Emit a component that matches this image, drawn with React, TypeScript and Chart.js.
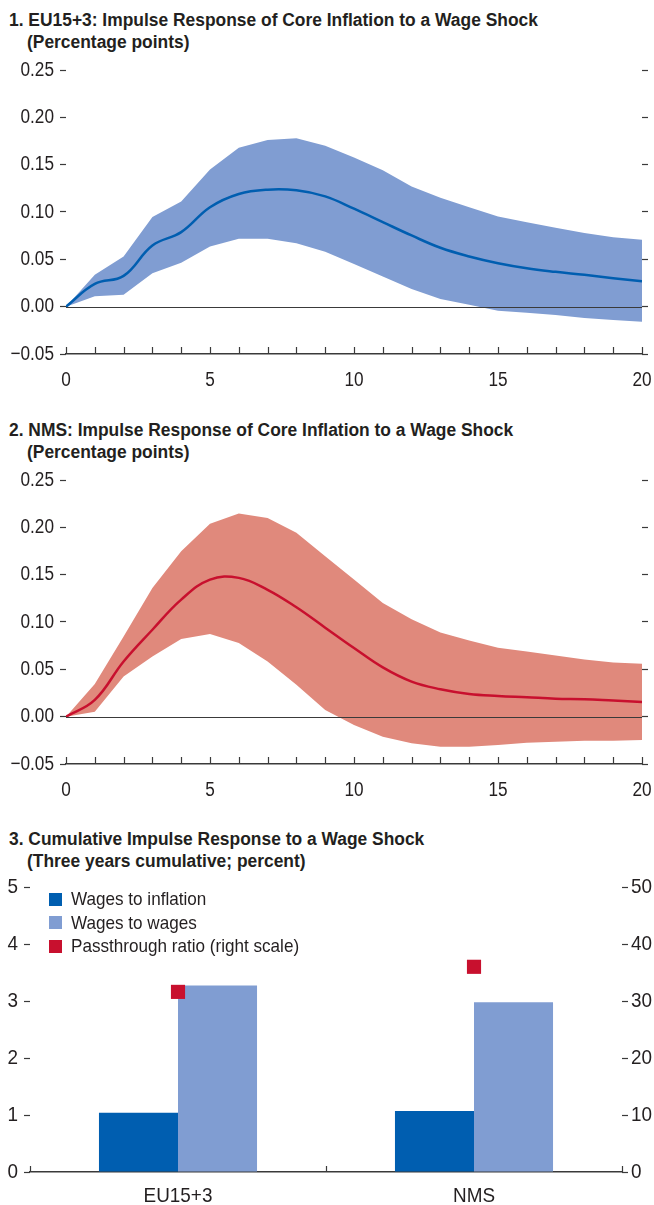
import React, { useEffect, useRef } from "react";
import { Chart, registerables } from "chart.js";

Chart.register(...registerables);

// ---------- Data ----------
const horizons = [0, 1, 2, 3, 4, 5, 6, 7, 8, 9, 10, 11, 12, 13, 14, 15, 16, 17, 18, 19, 20];

const euMedian = [0, 0.024, 0.0325, 0.0646, 0.0787, 0.105, 0.119, 0.1236, 0.1229, 0.1165, 0.1035, 0.0893, 0.0752, 0.0622, 0.053, 0.0459, 0.0406, 0.0368, 0.0336, 0.030, 0.0268];
const euUpper = [0, 0.0336, 0.053, 0.0946, 0.111, 0.145, 0.168, 0.176, 0.178, 0.17, 0.1575, 0.144, 0.127, 0.115, 0.105, 0.0953, 0.0893, 0.0833, 0.0777, 0.0734, 0.0706];
const euLower = [0, 0.011, 0.0127, 0.0353, 0.0463, 0.0636, 0.0717, 0.0717, 0.067, 0.058, 0.045, 0.0318, 0.0187, 0.0081, 0.002, -0.0042, -0.0064, -0.0088, -0.012, -0.0141, -0.0159];

const nmsMedian = [0, 0.0177, 0.0583, 0.0918, 0.1236, 0.1448, 0.1466, 0.134, 0.1155, 0.094, 0.0725, 0.052, 0.037, 0.029, 0.024, 0.0219, 0.0205, 0.019, 0.0184, 0.017, 0.0156];
const nmsUpper = [0, 0.0346, 0.0847, 0.136, 0.1748, 0.2038, 0.2147, 0.2098, 0.1943, 0.1695, 0.1448, 0.120, 0.103, 0.089, 0.0805, 0.0728, 0.0689, 0.0646, 0.0604, 0.0572, 0.0558];
const nmsLower = [0, 0.0053, 0.0424, 0.0636, 0.082, 0.0873, 0.0777, 0.0583, 0.0336, 0.007, -0.0088, -0.0212, -0.0282, -0.0318, -0.0318, -0.030, -0.0275, -0.0265, -0.0254, -0.0254, -0.0247];

const irfYTicks = [-0.05, 0, 0.05, 0.1, 0.15, 0.2, 0.25];
const irfXLabelStep = 5;

const groups = ["EU15+3", "NMS"];
const wagesToInflation = [1.04, 1.07];
const wagesToWages = [3.27, 2.98];
const passthroughRatio = [31.6, 36.0];
const leftTicks3 = [0, 1, 2, 3, 4, 5];
const rightTicks3 = [0, 10, 20, 30, 40, 50];

// ---------- Styles ----------
const FONT = '"Liberation Sans", Arial, sans-serif';
const TEXT = "#231f20";
const AXIS = "#3a3a3a";

// Horizontally condensed text drawing (the original uses a condensed face)
const condense = {
  id: "condense",
  beforeInit(chart: any, _args: any, opts: any) {
    const ctx = chart.ctx;
    const k = opts && opts.k ? opts.k : 1;
    const orig = ctx.fillText.bind(ctx);
    ctx.fillText = (text: string, x: number, y: number, maxWidth?: number) => {
      ctx.save();
      ctx.translate(x, y);
      ctx.scale(k, 1);
      if (maxWidth !== undefined && maxWidth !== null) orig(text, 0, 0, maxWidth / k);
      else orig(text, 0, 0);
      ctx.restore();
    };
  },
};

const axisMarks = {
  id: "axisMarks",
  afterDatasetsDraw(chart: any, _args: any, opts: any) {
    const { ctx, chartArea } = chart;
    const x = chart.scales.x;
    const y = chart.scales.y;
    ctx.save();
    ctx.strokeStyle = AXIS;
    ctx.lineWidth = 1;
    if (opts.zeroLine) {
      const y0 = Math.round(y.getPixelForValue(0)) + 0.5;
      ctx.beginPath();
      ctx.moveTo(chartArea.left, y0);
      ctx.lineTo(chartArea.right, y0);
      ctx.stroke();
    }
    let xs: number[] = [];
    if (opts.category) {
      const n = x.ticks.length;
      const half = n > 1 ? (x.getPixelForValue(1) - x.getPixelForValue(0)) / 2 : (chartArea.right - chartArea.left) / 2;
      for (let i = 0; i < n; i++) xs.push(x.getPixelForValue(i) - half);
      xs.push(x.getPixelForValue(n - 1) + half);
    } else {
      xs = x.ticks.map((t: any) => x.getPixelForValue(t.value));
    }
    const bottom = chartArea.bottom;
    ctx.lineWidth = 1.2;
    for (const px of xs) {
      const xx = Math.round(px) + 0.5;
      ctx.beginPath();
      ctx.moveTo(xx, bottom);
      ctx.lineTo(xx, bottom - opts.tickLen);
      ctx.stroke();
    }
    ctx.restore();
  },
};

const noPadX = (h: number) => (s: any) => {
  s.height = h;
  s.paddingLeft = 0;
  s.paddingRight = 0;
};
const noPadY = (w: number) => (s: any) => {
  s.width = w;
  s.paddingTop = 0;
  s.paddingBottom = 0;
};

function irfConfig(median: number[], upper: number[], lower: number[], lineColor: string, bandColor: string) {
  const pts = (arr: number[]) => horizons.map((h, i) => ({ x: h, y: arr[i] }));
  return {
    type: "line",
    data: {
      datasets: [
        {
          data: pts(median),
          borderColor: lineColor,
          borderWidth: 2.5,
          pointRadius: 0,
          tension: 0.4,
          fill: false,
        },
        {
          data: pts(upper),
          borderWidth: 0,
          borderColor: "transparent",
          backgroundColor: bandColor,
          pointRadius: 0,
          fill: "+1",
        },
        {
          data: pts(lower),
          borderWidth: 0,
          borderColor: "transparent",
          pointRadius: 0,
          fill: false,
        },
      ],
    },
    options: {
      animation: false,
      responsive: false,
      events: [],
      layout: { padding: { top: 70, left: 0, right: 0, bottom: 0 } },
      plugins: {
        legend: { display: false },
        tooltip: { enabled: false },
        axisMarks: { zeroLine: true, tickLen: 7 },
        condense: { k: 0.86 },
      },
      scales: {
        x: {
          type: "linear",
          min: 0,
          max: 20,
          afterBuildTicks: (s: any) => {
            s.ticks = horizons.map((v) => ({ value: v }));
          },
          afterFit: noPadX(46),
          grid: { display: false, drawTicks: false },
          border: { display: true, color: AXIS, width: 1.5 },
          ticks: {
            autoSkip: false,
            maxRotation: 0,
            padding: 14,
            color: TEXT,
            font: { family: FONT, size: 20 },
            callback: (v: any) => (Number(v) % irfXLabelStep === 0 ? String(v) : ""),
          },
        },
        y: {
          type: "linear",
          position: "left",
          min: -0.05,
          max: 0.25,
          afterBuildTicks: (s: any) => {
            s.ticks = irfYTicks.map((v) => ({ value: v }));
          },
          afterFit: noPadY(66),
          grid: { drawOnChartArea: false, drawTicks: true, tickLength: 6, tickColor: AXIS, tickWidth: 1.2 },
          border: { display: false },
          ticks: {
            padding: 6,
            color: TEXT,
            font: { family: FONT, size: 20 },
            callback: (v: any) => Number(v).toFixed(2).replace("-", "\u2212"),
          },
        },
        y2: {
          type: "linear",
          position: "right",
          min: -0.05,
          max: 0.25,
          afterBuildTicks: (s: any) => {
            s.ticks = irfYTicks.map((v) => ({ value: v }));
          },
          afterFit: noPadY(12),
          grid: { drawOnChartArea: false, drawTicks: true, tickLength: 6, tickColor: AXIS, tickWidth: 1.2 },
          border: { display: false },
          ticks: { display: false },
        },
      },
    },
    plugins: [axisMarks, condense],
  };
}

function barConfig() {
  return {
    type: "bar",
    data: {
      labels: groups,
      datasets: [
        {
          type: "line",
          label: "Passthrough ratio (right scale)",
          data: passthroughRatio,
          yAxisID: "y2",
          showLine: false,
          pointStyle: "rect",
          pointRadius: 10,
          pointBackgroundColor: "#c8102e",
          pointBorderWidth: 0,
          borderColor: "transparent",
          order: 0,
        },
        {
          label: "Wages to inflation",
          data: wagesToInflation,
          backgroundColor: "#005eb0",
          yAxisID: "y",
          categoryPercentage: 0.534,
          barPercentage: 1,
          order: 1,
        },
        {
          label: "Wages to wages",
          data: wagesToWages,
          backgroundColor: "#809dd2",
          yAxisID: "y",
          categoryPercentage: 0.534,
          barPercentage: 1,
          order: 1,
        },
      ],
    },
    options: {
      animation: false,
      responsive: false,
      events: [],
      layout: { padding: { top: 87, left: 0, right: 0, bottom: 0 } },
      plugins: {
        legend: { display: false },
        tooltip: { enabled: false },
        axisMarks: { zeroLine: false, category: true, tickLen: 6 },
        condense: { k: 0.9 },
      },
      scales: {
        x: {
          type: "category",
          offset: true,
          afterFit: noPadX(33),
          grid: { display: false, drawTicks: false },
          border: { display: true, color: AXIS, width: 1.5 },
          ticks: {
            padding: 12,
            color: TEXT,
            font: { family: FONT, size: 21 },
          },
        },
        y: {
          type: "linear",
          position: "left",
          min: 0,
          max: 5,
          afterBuildTicks: (s: any) => {
            s.ticks = leftTicks3.map((v) => ({ value: v }));
          },
          afterFit: noPadY(30),
          grid: { drawOnChartArea: false, drawTicks: true, tickLength: 6, tickColor: AXIS, tickWidth: 1.2 },
          border: { display: false },
          ticks: { padding: 6, color: TEXT, font: { family: FONT, size: 21 } },
        },
        y2: {
          type: "linear",
          position: "right",
          min: 0,
          max: 50,
          afterBuildTicks: (s: any) => {
            s.ticks = rightTicks3.map((v) => ({ value: v }));
          },
          afterFit: noPadY(32),
          grid: { drawOnChartArea: false, drawTicks: true, tickLength: 6, tickColor: AXIS, tickWidth: 1.2 },
          border: { display: false },
          ticks: { padding: 3, color: TEXT, font: { family: FONT, size: 21 } },
        },
      },
    },
    plugins: [axisMarks, condense],
  };
}

function ChartCanvas({ config, top, height }: { config: () => any; top: number; height: number }) {
  const ref = useRef<HTMLCanvasElement | null>(null);
  useEffect(() => {
    if (!ref.current) return;
    const chart = new Chart(ref.current, config());
    return () => chart.destroy();
  }, []);
  return (
    <canvas
      ref={ref}
      width={654}
      height={height}
      style={{ position: "absolute", left: 0, top, width: 654, height, display: "block" }}
    />
  );
}

const titleStyle: React.CSSProperties = {
  position: "absolute",
  margin: 0,
  fontFamily: FONT,
  fontWeight: "bold",
  fontSize: 18,
  lineHeight: "20px",
  color: TEXT,
  whiteSpace: "nowrap",
  transform: "scaleX(0.967)",
  transformOrigin: "left center",
};

function Title({ top, line1, line2 }: { top: number; line1: string; line2: string }) {
  return (
    <>
      <div style={{ ...titleStyle, top, left: 9 }}>{line1}</div>
      <div style={{ ...titleStyle, top: top + 22, left: 27 }}>{line2}</div>
    </>
  );
}

const legendItems = [
  { label: "Wages to inflation", color: "#005eb0" },
  { label: "Wages to wages", color: "#809dd2" },
  { label: "Passthrough ratio (right scale)", color: "#c8102e" },
];

export default function App() {
  return (
    <div style={{ position: "absolute", left: 0, top: 0, width: 654, height: 1205, background: "#fff", overflow: "hidden" }}>
      <Title top={10} line1="1. EU15+3: Impulse Response of Core Inflation to a Wage Shock" line2="(Percentage points)" />
      <ChartCanvas
        top={0}
        height={400}
        config={() => irfConfig(euMedian, euUpper, euLower, "#005eb0", "#809dd2")}
      />
      <Title top={420} line1="2. NMS: Impulse Response of Core Inflation to a Wage Shock" line2="(Percentage points)" />
      <ChartCanvas
        top={410}
        height={400}
        config={() => irfConfig(nmsMedian, nmsUpper, nmsLower, "#c8102e", "#e0897c")}
      />
      <Title top={829} line1="3. Cumulative Impulse Response to a Wage Shock" line2="(Three years cumulative; percent)" />
      <ChartCanvas top={800} height={405} config={barConfig} />
      {legendItems.map((it, i) => (
        <div
          key={it.label}
          style={{
            position: "absolute",
            left: 49,
            top: 888 + i * 23.5,
            height: 22,
            display: "flex",
            alignItems: "center",
            fontFamily: FONT,
            fontSize: 19,
            color: TEXT,
            whiteSpace: "nowrap",
          }}
        >
          <span style={{ display: "inline-block", width: 13, height: 13, background: it.color, marginRight: 9, flex: "none" }} />
          <span style={{ display: "inline-block", transform: "scaleX(0.9)", transformOrigin: "left center" }}>{it.label}</span>
        </div>
      ))}
    </div>
  );
}
